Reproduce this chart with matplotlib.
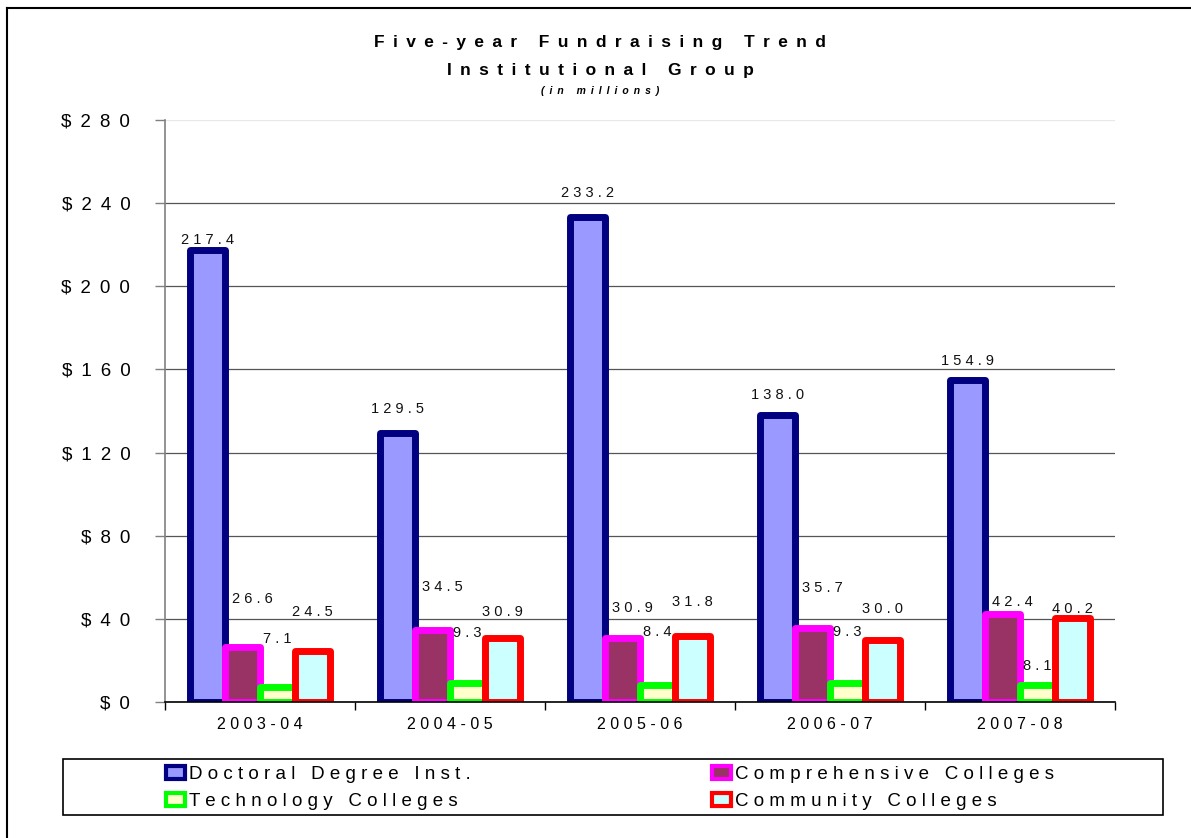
import matplotlib
matplotlib.use("Agg")
import matplotlib.pyplot as plt
from matplotlib.patches import Patch, Rectangle
from matplotlib.lines import Line2D
import numpy as np


# Chart data
years = ["2003-04", "2004-05", "2005-06", "2006-07", "2007-08"]
series_names = [
    "Doctoral Degree Inst.",
    "Comprehensive Colleges",
    "Technology Colleges",
    "Community Colleges",
]
doctoral = [217.4, 129.5, 233.2, 138.0, 154.9]
comprehensive = [26.6, 34.5, 30.9, 35.7, 42.4]
technology = [7.1, 9.3, 8.4, 9.3, 8.1]
community = [24.5, 30.9, 31.8, 30.0, 40.2]

# Where the value labels sit (value units)
doctoral_label_y = [222.3, 141.0, 244.9, 147.7, 164.1]
comprehensive_label_y = [49.6, 55.3, 45.2, 54.8, 48.1]
technology_label_y = [30.3, 33.2, 33.7, 33.7, 17.3]
community_label_y = [43.3, 43.3, 48.1, 44.7, 44.7]

y_ticks = np.arange(0, 281, 40)

# Styles
FACES = ["#9999FF", "#993366", "#FFFFCC", "#CCFFFF"]
EDGES = ["#000080", "#FF00FF", "#00FF00", "#FF0000"]
FONT = ["Liberation Sans", "DejaVu Sans"]
NARROW = ["Liberation Sans Narrow", "Liberation Sans", "DejaVu Sans"]

plt.rcParams["font.family"] = FONT


def spaced(text, gap=" "):
    # Excel draws these labels with wide character spacing
    return gap.join(text)


WIDE = " \u2009"

fig = plt.figure(figsize=(11.91, 8.38), dpi=100)
ax = fig.add_axes([165 / 1191, 1 - 702 / 838, 950 / 1191, 582 / 838])

# Bars
x = np.arange(len(years)) + 0.5
width = 0.184
values = [doctoral, comprehensive, technology, community]
for i, vals in enumerate(values):
    ax.bar(
        x + (i - 1.5) * width,
        vals,
        width,
        color=FACES[i],
        edgecolor=EDGES[i],
        linewidth=5,
        joinstyle="round",
        zorder=3 + i,
    )

# Value labels
label_kw = dict(ha="center", va="center", fontsize=10.5, color="#111111", zorder=10)
label_sets = [
    (-1.5, doctoral, doctoral_label_y, 0),
    (-0.5, comprehensive, comprehensive_label_y, 7),
    (0.5, technology, technology_label_y, 0),
    (1.5, community, community_label_y, 0),
]
for shift, vals, label_y, dx in label_sets:
    for xi, v, ly in zip(x + shift * width, vals, label_y):
        ax.annotate(spaced(f"{v:.1f}"), (xi, ly), xytext=(dx, 0),
                    textcoords="offset points", **label_kw)

# Axes
ax.set_xlim(0, len(years))
ax.set_ylim(0, 280)
ax.set_yticks(y_ticks)
ax.set_yticklabels([spaced(f"${t}", WIDE) for t in y_ticks], fontsize=13.5)
ax.set_xticks(np.arange(len(years) + 1))
ax.set_xticklabels([])
ax.set_xticks(x, minor=True)
ax.set_xticklabels([spaced(y) for y in years], minor=True, fontsize=11.5)

ax.tick_params(axis="y", direction="out", length=7, width=1, color="#808080", pad=18)
ax.tick_params(axis="x", which="major", direction="out", length=6, width=1, color="black")
ax.tick_params(axis="x", which="minor", length=0, pad=11)

ax.yaxis.grid(True, color="#555555", linewidth=0.9, zorder=0)
ax.set_axisbelow(True)
ax.yaxis.get_gridlines()[-1].set_color("#e8e8e8")

for side in ["top", "right"]:
    ax.spines[side].set_visible(False)
ax.spines["left"].set_color("#808080")
ax.spines["left"].set_linewidth(1.2)
ax.spines["bottom"].set_color("black")
ax.spines["bottom"].set_linewidth(1.2)
ax.spines["bottom"].set_zorder(20)

# Titles
fig.text(0.504, 1 - 42 / 838, spaced("Five-year Fundraising Trend", WIDE),
         ha="center", va="center", fontsize=12.5, fontweight="bold")
fig.text(0.504, 1 - 71 / 838, spaced("Institutional Group", WIDE),
         ha="center", va="center", fontsize=12.5, fontweight="bold")
fig.text(0.504, 1 - 91 / 838, spaced("(in millions)", WIDE),
         ha="center", va="center", fontsize=7.5, fontweight="bold", style="italic")

# Legend (column-wise fill, so order handles to read row by row)
order = [0, 2, 1, 3]
handles = [
    Patch(facecolor=FACES[i], edgecolor=EDGES[i], linewidth=3)
    for i in order
]
leg = fig.legend(
    handles,
    [spaced(series_names[i]) for i in order],
    ncol=2,
    loc="center left",
    bbox_to_anchor=(157 / 1191, 1 - 788 / 838, 906 / 1191, 0.0),
    mode="expand",
    frameon=False,
    handlelength=1.0,
    handleheight=0.7,
    handletextpad=0.2,
    labelspacing=0.5,
    borderpad=0,
    prop={"family": NARROW, "size": 13.5},
)
fig.add_artist(Rectangle((63 / 1191, 1 - 815 / 838), 1100 / 1191, 56 / 838,
                         transform=fig.transFigure, fill=False,
                         edgecolor="black", linewidth=1.2))

# Figure border (only top and left edges show in the original)
fig.add_artist(Line2D([7 / 1191, 1.0], [1 - 8 / 838, 1 - 8 / 838],
                      transform=fig.transFigure, color="black", linewidth=1.5))
fig.add_artist(Line2D([7 / 1191, 7 / 1191], [0.0, 1 - 8 / 838],
                      transform=fig.transFigure, color="black", linewidth=1.5))

fig.savefig("out.png", dpi=100)
